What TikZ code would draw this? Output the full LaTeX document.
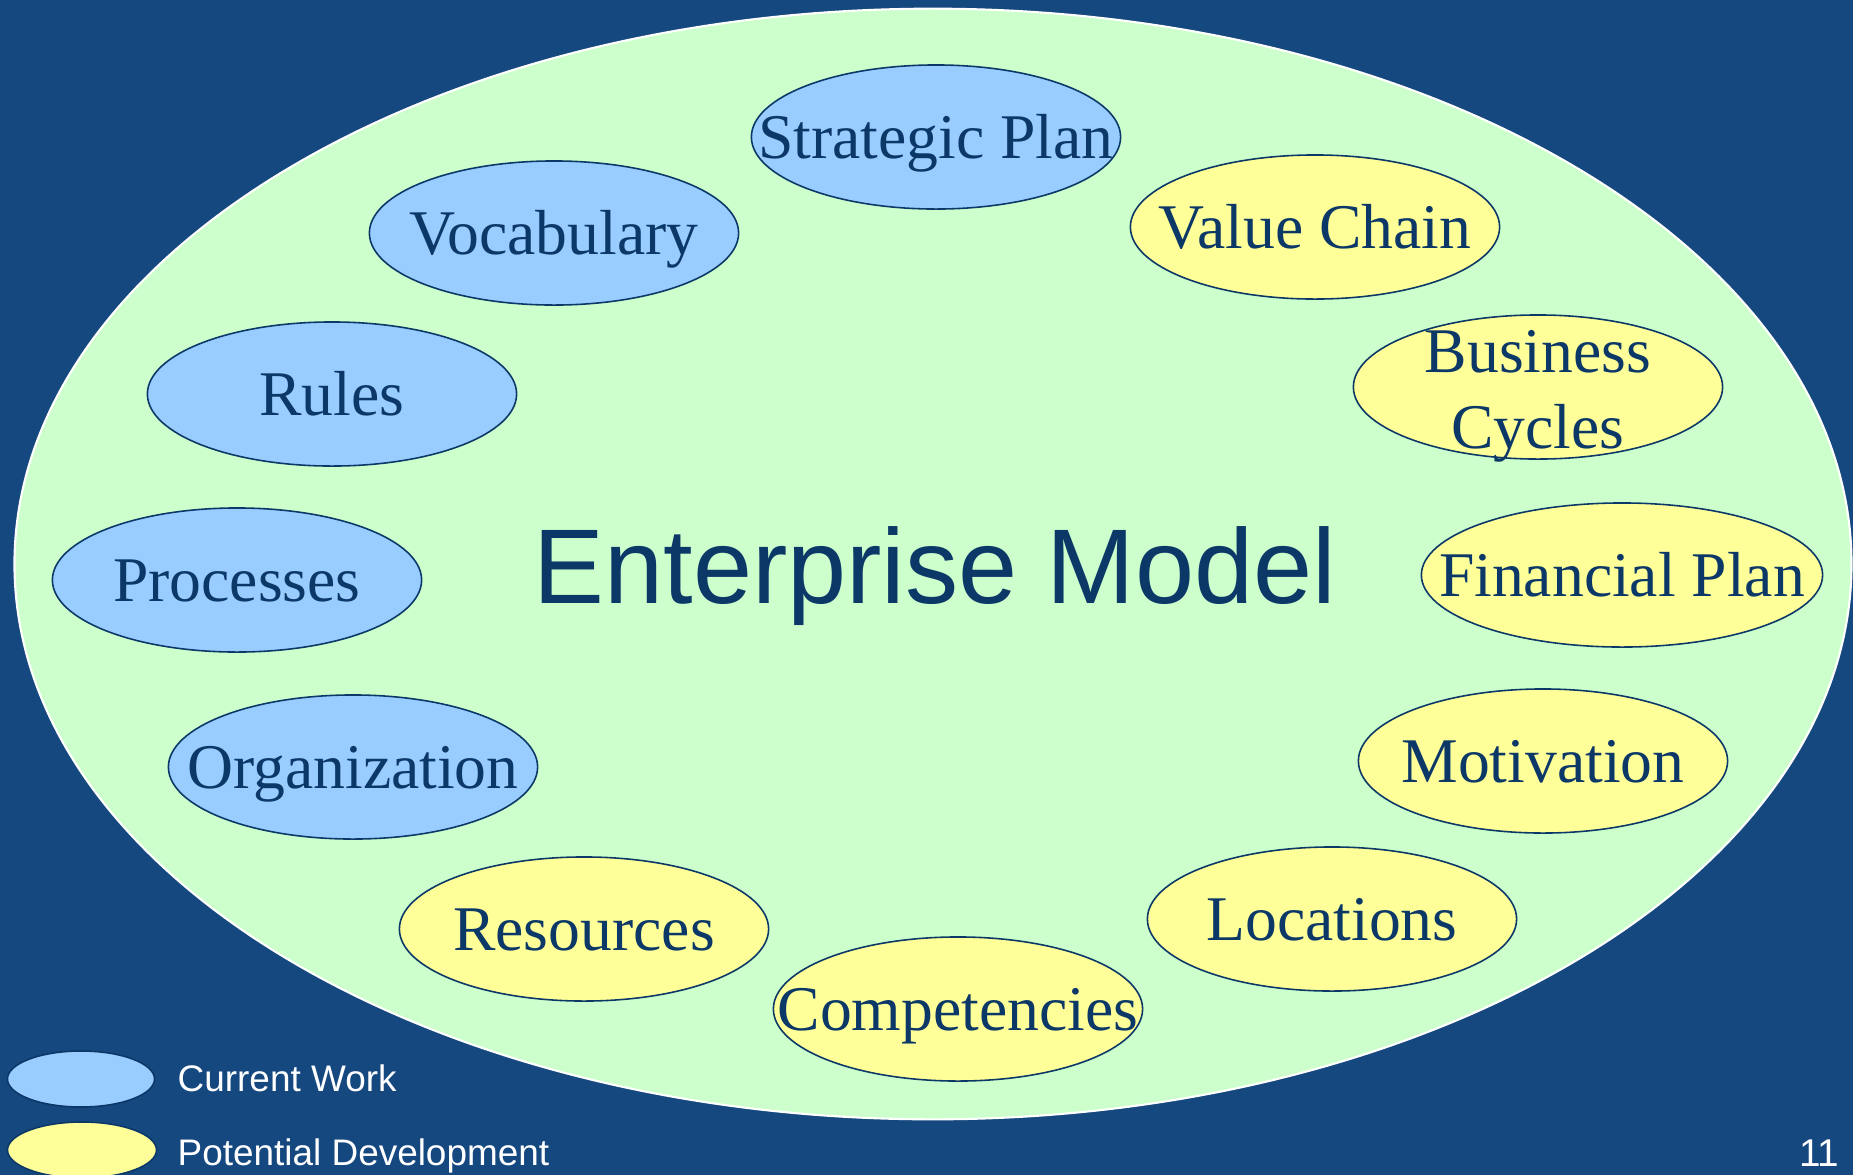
\documentclass[tikz,border=0pt]{standalone}
\usepackage{fontspec}
\setmainfont{Liberation Serif}
\setsansfont{Liberation Sans}
\usepackage{tikz}
\usetikzlibrary{shapes.geometric}
\definecolor{bgblue}{RGB}{22, 72, 128}
\definecolor{mgreen}{RGB}{204, 255, 204}
\definecolor{mblue}{RGB}{153, 204, 255}
\definecolor{myellow}{RGB}{255, 255, 153}
\definecolor{mnavy}{RGB}{12, 56, 104}
\tikzset{cur/.style = {ellipse, draw = mnavy, line width = 0.45pt, fill = mblue,
    inner sep = 0, minimum width = 3.69cm, minimum height = 1.44cm}}
\tikzset{pot/.style = {cur, fill = myellow}}
\tikzset{lbl/.style = {text = mnavy, font = \fontsize{18.1}{21}\selectfont,
    inner sep = 0, text height = 0.42cm, text depth = 0cm}}
\tikzset{leg/.style = {text = white, font = \sffamily\fontsize{10.5}{12}\selectfont,
    inner sep = 0, text height = 0.265cm, text depth = 0cm, anchor = west}}

\begin{document}
\begin{tikzpicture}[x = 0.01cm, y = -0.01cm]
    \useasboundingbox (0, 0) rectangle (1853, 1175);
    \fill [bgblue] (0, 0) rectangle (1853, 1175);

    \draw [white, fill = mgreen, line width = 0.6pt] (933, 564) ellipse (9.18cm and 5.55cm);
    \node [lbl, text height = 0.76cm, font = \sffamily\fontsize{30.2}{34}\selectfont]
      (model) at (935, 565) {Enterprise Model};

    % current work
    \node [cur] (strat) at (936, 137) {};
    \node [cur] (vocab) at (554, 233) {};
    \node [cur] (rules) at (332, 394) {};
    \node [cur] (proc) at (237, 580) {};
    \node [cur] (org) at (353, 767) {};

    \node [lbl] at (strat) {Strategic Plan};
    \node [lbl] at (vocab) {Vocabulary};
    \node [lbl] at (rules) {Rules};
    \node [lbl] at (proc) {Processes};
    \node [lbl] at (org) {Organization};

    % potential development
    \node [pot] (value) at (1315, 227) {};
    \node [pot] (cycles) at (1538, 387) {};
    \node [pot, minimum width = 4.01cm] (fin) at (1622, 575) {};
    \node [pot] (motiv) at (1543, 761) {};
    \node [pot] (loc) at (1332, 919) {};
    \node [pot] (comp) at (958, 1009) {};
    \node [pot] (res) at (584, 929) {};

    \node [lbl] at (value) {Value Chain};
    \node [lbl, text height = {}, text depth = {}, align = center]
      at ([yshift = -0.09cm] cycles) {Business\\[0.02cm]Cycles};
    \node [lbl] at (fin) {Financial Plan};
    \node [lbl] at (motiv) {Motivation};
    \node [lbl] at (loc) {Locations};
    \node [lbl] at (comp) {Competencies};
    \node [lbl] at (res) {Resources};

    % legend
    \node [cur, minimum width = 1.47cm, minimum height = 0.56cm] (legcur) at (81, 1079) {};
    \node [pot, minimum width = 1.49cm, minimum height = 0.56cm] (legpot) at (82, 1150) {};
    \node [leg] at (177, 1078) {Current Work};
    \node [leg] at (177, 1152) {Potential Development};

    \node [text = white, font = \sffamily\fontsize{11}{13}\selectfont, inner sep = 0,
      anchor = base east] (page) at (1840, 1166) {11};
  \end{tikzpicture}
\end{document}
